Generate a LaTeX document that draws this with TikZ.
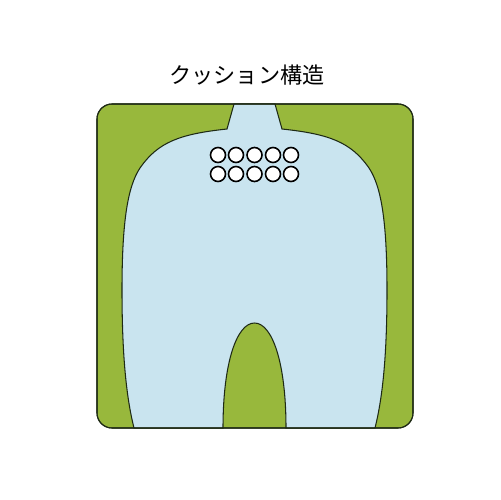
\documentclass[tikz,border=0pt]{standalone}
\usepackage{fontspec}
\usepackage{xcolor}
\usepackage{tikz}
\usetikzlibrary{shapes,positioning,calc}
\newfontfamily\jpfont{Noto Sans CJK JP}

\definecolor{padgreen}{HTML}{98B83C}
\definecolor{padblue}{HTML}{C9E4EF}
\definecolor{padline}{HTML}{1E2A14}

\tikzset{
    hole/.style={circle, draw=black, fill=white, line width=0.9pt, minimum size=0.3cm, inner sep=0pt},
    outline/.style={draw=padline, line width=0.6pt}
}

\begin{document}
\begin{tikzpicture}[x=0.02cm, y=-0.02cm]
    \useasboundingbox (0,0) rectangle (500,500);

    % Title
    \node (title) at (247,75) {\jpfont\fontsize{12.6}{15}\selectfont クッション構造};

    % Base pad
    \draw[outline, fill=padgreen, rounded corners=0.3cm] (97,104) rectangle (413,428);

    % Cushion
    \draw[outline, fill=padblue] (234,104) -- (227,129)
        .. controls (180,134) and (158,142) .. (140,168)
        .. controls (128,186) and (122,220) .. (122,290)
        .. controls (122,360) and (127,400) .. (134,428)
        -- (223,428)
        .. controls (223,362) and (237,323) .. (254.5,323)
        .. controls (272,323) and (286,362) .. (286,428)
        -- (375,428)
        .. controls (382,400) and (387,360) .. (387,290)
        .. controls (387,220) and (381,186) .. (369,168)
        .. controls (351,142) and (329,134) .. (282,129)
        -- (275,104) -- cycle;
    \draw[outline, rounded corners=0.3cm] (97,104) rectangle (413,428);

    % Holes
    \foreach \col [count=\i] in {218,236,254.5,273,291} {
        \node[hole] (hA\i) at (\col,155) {};
        \node[hole] (hB\i) at (\col,174) {};
    }
\end{tikzpicture}
\end{document}
